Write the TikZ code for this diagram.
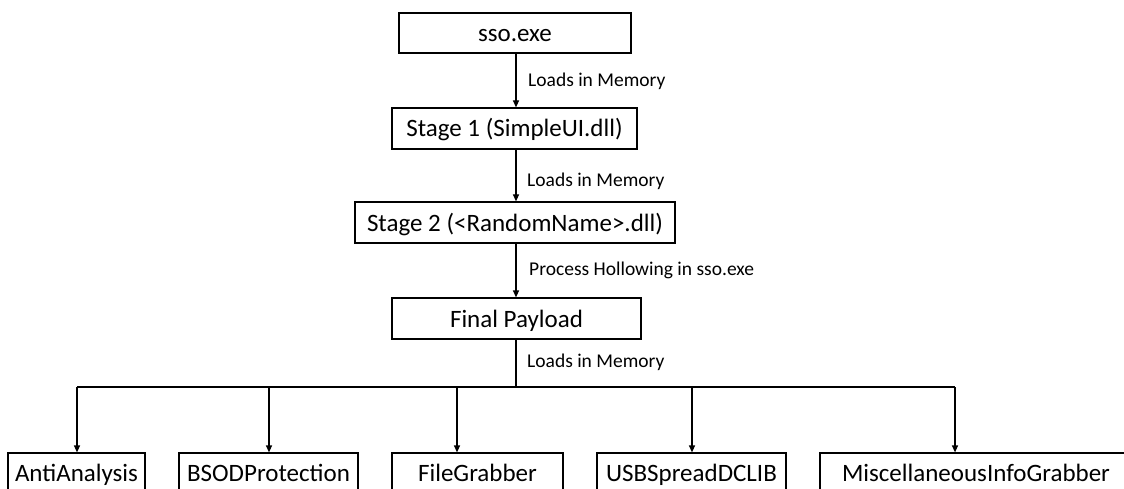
\documentclass[tikz,border=0pt]{standalone}
\usepackage{fontspec}
\setmainfont{Carlito}
\usetikzlibrary{arrows.meta}
\begin{document}
\begin{tikzpicture}[x=1pt,y=-1pt,
  box/.style={draw=black,line width=1.2pt,inner sep=0pt,font=\fontsize{25}{30}\selectfont,text height=17pt,text depth=0pt},
  lbl/.style={font=\fontsize{19.5}{23}\selectfont,anchor=west,inner sep=0pt,text height=12.6pt,text depth=0pt},
  conn/.style={line width=1.2pt,-{Triangle[length=7pt,width=6pt]}},
  bus/.style={line width=1.2pt}]
\useasboundingbox (0,0) rectangle (1124,489);
\clip (0,0) rectangle (1124,489);
\fill[white] (0,0) rectangle (1124,489);
% main chain
\node[box,minimum width=232pt,minimum height=40pt] (sso) at (515,33) {sso.exe};
\node[box,minimum width=245pt,minimum height=41pt] (s1) at (514.5,128.5) {Stage 1 (SimpleUI.dll)};
\node[box,minimum width=320pt,minimum height=41pt] (s2) at (515,222.5) {Stage 2 (<RandomName>.dll)};
\node[box,minimum width=249pt,minimum height=41pt] (fp) at (516.5,318.5) {Final Payload};
% bottom modules
\node[box,minimum width=137pt,minimum height=39pt] (anti) at (76.5,472.5) {AntiAnalysis};
\node[box,minimum width=179pt,minimum height=39pt] (bsod) at (268.5,472.5) {BSODProtection};
\node[box,minimum width=171pt,minimum height=39pt] (file) at (477.5,472.5) {FileGrabber};
\node[box,minimum width=189pt,minimum height=39pt] (usb) at (691.5,472.5) {USBSpreadDCLIB};
\node[box,minimum width=312pt,minimum height=39pt] (misc) at (976,472.5) {MiscellaneousInfoGrabber};
% connectors
\coordinate (a1) at (516,53);
\coordinate (a2) at (516,149);
\coordinate (a3) at (516,243);
\draw[conn] (a1) -- (a1 |- s1.north);
\draw[conn] (a2) -- (a2 |- s2.north);
\draw[conn] (a3) -- (a3 |- fp.north);
\coordinate (b0) at (516,387);
\coordinate (bA) at (77,387);
\coordinate (bB) at (269,387);
\coordinate (bF) at (457,387);
\coordinate (bU) at (692,387);
\coordinate (bM) at (955,387);
\draw[bus] (b0 |- fp.south) -- (b0);
\draw[bus] (bA) -- (bM);
\draw[conn] (bA) -- (bA |- anti.north);
\draw[conn] (bB) -- (bB |- bsod.north);
\draw[conn] (bF) -- (bF |- file.north);
\draw[conn] (bU) -- (bU |- usb.north);
\draw[conn] (bM) -- (bM |- misc.north);
% labels
\node[lbl] (l1) at (528,80) {Loads in Memory};
\node[lbl] (l2) at (527,180) {Loads in Memory};
\node[lbl] (l3) at (529,269) {Process Hollowing in sso.exe};
\node[lbl] (l4) at (527,361.5) {Loads in Memory};
\end{tikzpicture}
\end{document}
